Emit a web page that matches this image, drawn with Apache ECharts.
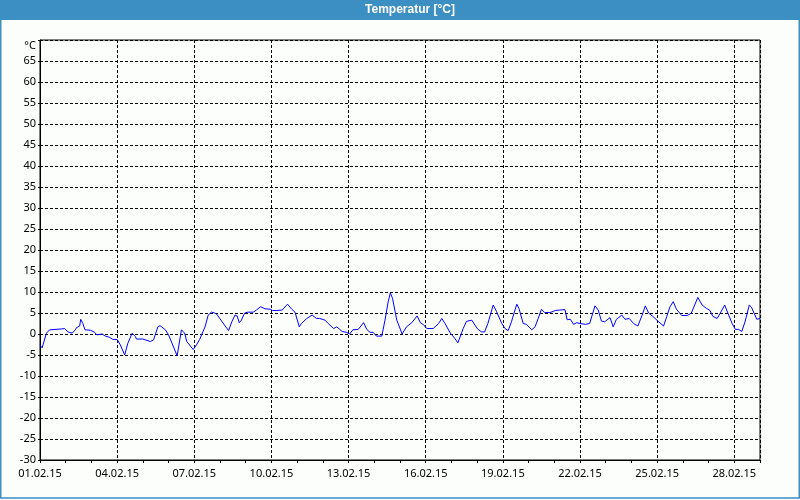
<!DOCTYPE html>
<html>
<head>
<meta charset="utf-8">
<script src="https://cdn.jsdelivr.net/npm/echarts@6/dist/echarts.min.js"></script>
<style>html,body{margin:0;padding:0;background:#fbfefb;}#c{width:800px;height:500px;}</style>
</head>
<body>
<div id="c"></div>
<script>
// hours since 01.02.15 00:00, temperature in °C
var readings = [
[0,-2.6],[2,-3.3],[6,0.2],[9,1.0],[20,1.2],[23,1.3],[26,0.5],[30,0.2],[33,1.0],[34,1.5],[37,1.9],[38,3.5],[40,2.5],[42,1.0],[47,0.9],[51,0.4],[53,-0.2],[58,0],[61,-0.5],[65,-0.8],[68,-1.3],[72,-1.3],[75,-2.6],[79,-5.0],[82,-2.2],[86,0.2],[89,-0.6],[90,-1.2],[96,-1.2],[103,-1.8],[106,-1.4],[110,1.7],[112,2.0],[117,1.0],[120,-0.2],[128,-5.2],[132,1.0],[135,0.2],[137,-1.8],[143,-3.7],[146,-2.6],[149,-1.3],[154,1.7],[157,4.5],[160,5.2],[163,5.0],[165,4.7],[170,2.9],[176,0.8],[179,2.9],[182,4.5],[184,4.3],[186,2.7],[188,3.3],[191,5.0],[194,5.2],[199,5.2],[202,5.7],[206,6.5],[210,6.0],[215,5.9],[217,5.6],[221,5.6],[226,5.7],[231,7.1],[235,5.9],[238,5.2],[242,1.7],[244,2.5],[249,3.7],[254,4.5],[258,3.7],[261,3.7],[266,3.3],[269,2.5],[274,1.3],[277,1.7],[282,0.6],[286,0.4],[289,0.0],[292,1.0],[297,1.1],[302,2.7],[305,1.1],[308,0.4],[311,0.4],[314,-0.5],[319,-0.5],[322,3.3],[325,7.7],[327,9.8],[329,8.5],[333,3.3],[338,0.0],[342,1.7],[347,2.7],[352,4.3],[355,2.7],[358,2.2],[361,1.3],[367,1.3],[372,2.5],[375,3.7],[378,2.5],[383,0.2],[387,-1.0],[390,-2.1],[395,1.3],[398,3.0],[403,3.3],[408,1.3],[412,0.5],[415,0.5],[418,2.5],[423,6.9],[426,5.4],[431,2.5],[434,1.3],[437,0.8],[440,2.9],[445,7.1],[447,6.1],[451,2.5],[454,2.3],[459,1.0],[462,1.7],[465,3.7],[468,5.9],[471,5.1],[476,5.1],[481,5.6],[485,5.7],[490,5.8],[492,3.4],[495,3.5],[498,2.3],[501,2.7],[504,2.5],[509,2.3],[513,2.5],[518,6.7],[521,5.7],[524,3.1],[527,2.9],[532,3.9],[535,1.7],[538,3.5],[543,4.5],[546,3.5],[550,3.7],[554,2.5],[558,1.9],[562,4.5],[565,6.7],[568,5.0],[572,4.2],[577,3.0],[582,1.9],[585,4.2],[588,6.5],[591,7.7],[594,5.9],[599,4.4],[604,4.4],[608,5.0],[611,6.9],[614,8.7],[618,6.9],[622,6.1],[625,5.7],[628,4.2],[632,3.7],[635,5.0],[639,6.9],[642,5.0],[646,2.5],[649,1.1],[652,1.1],[655,0.6],[658,2.9],[662,6.9],[664,6.4],[669,3.5],[672,3.7]
];
var dayLabels = ['01.02.15','04.02.15','07.02.15','10.02.15','13.02.15','16.02.15','19.02.15','22.02.15','25.02.15','28.02.15'];
var yTop = 70, yBottom = -30, yStep = 5;
var unitLabel = '°C';
var titleText = 'Temperatur [°C]';

var chart = echarts.init(document.getElementById('c'));
var font = 'Noto Sans';
var dash = [3, 2];
chart.setOption({
  backgroundColor: '#fbfefb',
  animation: false,
  graphic: [
    {type:'rect', shape:{x:0,y:0,width:800,height:20}, style:{fill:'#3c8fc2'}, z:10},
    {type:'rect', shape:{x:0.75,y:0,width:798.5,height:498}, style:{fill:'none', stroke:'#3c8fc2', lineWidth:1.5}, z:10},
    {type:'text', x:410, y:10, style:{text:titleText, fill:'#fff', font:'bold 12px "Liberation Sans"', textAlign:'center', textVerticalAlign:'middle'}, z:11}
  ],
  grid: {left:40, right:40, top:40, bottom:40, show:true, borderColor:'#000', borderWidth:1, backgroundColor:'transparent'},
  xAxis: [{
    type:'value', min:0, max:672, interval:72, position:'bottom',
    axisLine:{show:true, onZero:false, lineStyle:{color:'#000', width:1}},
    axisTick:{show:false},
    axisLabel:{color:'#000', fontFamily:font, fontSize:11, margin:8,
      formatter:function(v){ var i = v/72; return (i===Math.floor(i) && dayLabels[i]) ? dayLabels[i] : ''; }},
    splitLine:{show:true, lineStyle:{color:'#000', type:dash, width:1}}
  },{
    type:'value', min:0, max:672, interval:24, position:'bottom', offset:0,
    axisLine:{show:false, onZero:false}, axisLabel:{show:false}, splitLine:{show:false},
    axisTick:{show:true, length:3, lineStyle:{color:'#000'}}
  }],
  yAxis: {
    type:'value', min:yBottom, max:yTop, interval:yStep,
    axisLine:{show:true, onZero:false, lineStyle:{color:'#000', width:1}},
    axisTick:{show:true, length:2, lineStyle:{color:'#000'}},
    axisLabel:{color:'#000', fontFamily:font, fontSize:11, margin:4,
      formatter:function(v){ return v===yTop ? '{u|' + unitLabel + '}' : String(v); },
      rich:{u:{fontFamily:font, fontSize:11, color:'#000', padding:[11,0,0,0]}}},
    splitLine:{show:true, lineStyle:{color:'#000', type:dash, width:1}}
  },
  series: [{
    type:'line', xAxisIndex:0, data:readings, showSymbol:false, symbol:'none',
    lineStyle:{color:'#0000ff', width:1}, z:5
  }]
});
</script>
</body>
</html>
